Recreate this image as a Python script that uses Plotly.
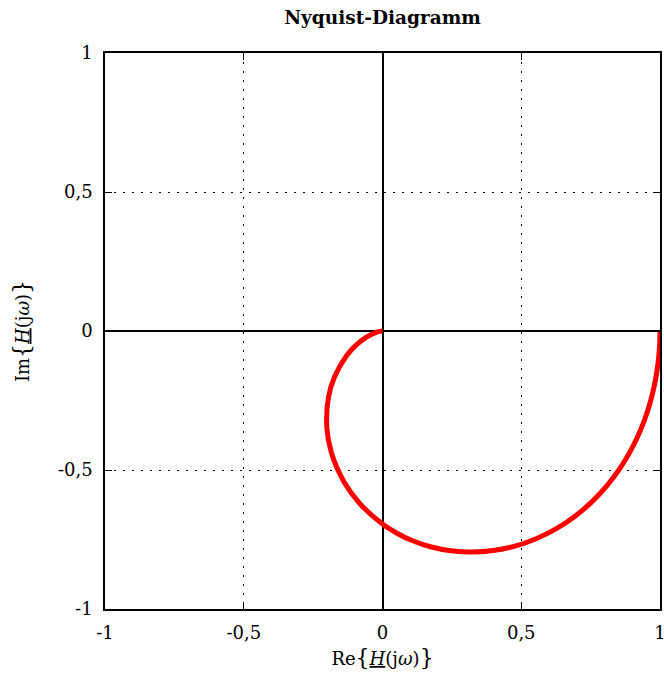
import plotly.graph_objects as go

# Nyquist curve points (from omega=0 at (1,0) to omega->inf at origin)
re_vals = [1.0, 0.9973, 0.9892, 0.9754, 0.9557, 0.9296, 0.8968, 0.8569, 0.8097, 0.7553,
           0.6939, 0.6262, 0.5536, 0.4774, 0.3996, 0.3222, 0.2471, 0.1762, 0.1107, 0.0518,
           0.0, -0.0822, -0.1384, -0.1846, -0.2007, -0.1945, -0.1735, -0.1296, -0.0968,
           -0.0581, -0.0382, -0.0200, -0.0099, 0.0]
im_vals = [0.0, -0.0720, -0.1439, -0.2155, -0.2867, -0.3570, -0.4257, -0.4922, -0.5553, -0.6137,
           -0.6661, -0.7111, -0.7473, -0.7738, -0.7899, -0.7954, -0.7908, -0.7770, -0.7554, -0.7273,
           -0.6944, -0.6204, -0.5435, -0.4363, -0.3468, -0.2376, -0.1665, -0.0888, -0.0523,
           -0.0223, -0.0115, -0.0042, -0.0014, 0.0]

tick_vals = [-1, -0.5, 0, 0.5, 1]
tick_text = ["-1", "-0,5", "0", "0,5", "1"]

FONT = "DejaVu Serif"

fig = go.Figure()
fig.add_trace(go.Scatter(x=re_vals, y=im_vals, mode="lines",
                         line=dict(color="#ff0000", width=5, shape="spline", smoothing=1.2),
                         showlegend=False, hoverinfo="skip"))

axis_common = dict(
    range=[-1, 1], tickvals=tick_vals, ticktext=tick_text,
    showgrid=True, gridcolor="black", griddash="2px,7px", gridwidth=1,
    zeroline=True, zerolinecolor="black", zerolinewidth=2,
    showline=True, linecolor="black", linewidth=1.5, mirror="ticks",
    ticks="inside", ticklen=7, tickcolor="black", tickwidth=1,
    ticklabelstandoff=7, automargin=False, ticklabeloverflow="allow",
    tickfont=dict(family=FONT, size=18, color="black"),
)

def axis_title(prefix):
    return (f'{prefix}<span style="font-size:22px">{{</span>'
            '<span style="text-decoration:underline"><i>H</i></span>(j<i>ω</i>)'
            '<span style="font-size:22px">}</span>')

fig.update_layout(
    width=664, height=678,
    margin=dict(l=105, r=4, t=53, b=69),
    plot_bgcolor="white", paper_bgcolor="white",
    separators=",.",
    title=dict(text="<b>Nyquist-Diagramm</b>", x=0.5, xanchor="center", xref="paper",
               y=1 - 18 / 678, yanchor="middle", yref="container", automargin=False,
               font=dict(family=FONT, size=18.5, color="black")),
    xaxis=dict(**axis_common,
               title=dict(text=axis_title("Re"),
                          font=dict(family=FONT, size=18, color="black"), standoff=10)),
    yaxis=dict(**axis_common,
               title=dict(text=axis_title("Im"),
                          font=dict(family=FONT, size=18, color="black"), standoff=24)),
)

fig.write_html("out.html", config={"displayModeBar": False},
               post_script="document.body.style.margin='0';document.body.style.overflow='hidden';")
